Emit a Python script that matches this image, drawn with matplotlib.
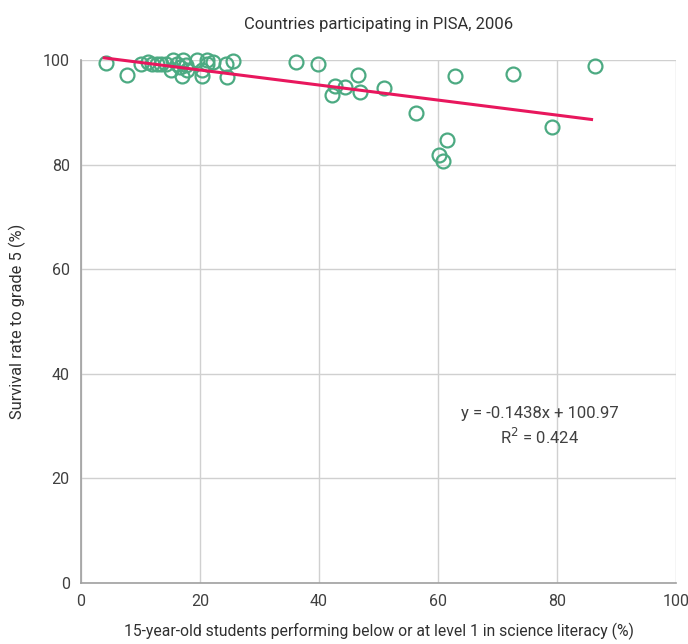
import matplotlib
matplotlib.use("Agg")
import matplotlib.pyplot as plt
import numpy as np

plt.rcParams['font.family'] = ['Roboto', 'DejaVu Sans']

# % of 15-year-olds at/below level 1 in science literacy
below_level1 = [4.2, 7.7, 10.1, 11.3, 11.9, 12.7, 13.4, 14.3, 15.5, 15.2,
                16.1, 16.6, 17.2, 17.0, 17.6, 17.9, 19.5, 20.4, 20.4, 21.1,
                21.1, 22.2, 24.4, 24.5, 25.5, 36.2, 39.8, 46.6, 42.7, 44.4,
                42.2, 46.9, 51.0, 56.3, 61.5, 60.1, 60.9, 62.9, 72.6, 86.4,
                79.1]
# survival rate to grade 5 (%)
survival = [99.5, 97.1, 99.2, 99.7, 99.2, 99.2, 99.2, 99.2, 100.0, 98.1,
            99.2, 98.7, 100.0, 96.9, 99.0, 98.1, 100.0, 98.1, 96.9, 100.0,
            99.2, 99.6, 99.2, 96.8, 99.9, 99.6, 99.2, 97.1, 95.0, 94.8,
            93.3, 93.9, 94.6, 89.9, 84.7, 81.9, 80.7, 96.9, 97.4, 98.8,
            87.2]

slope = -0.1438
intercept = 100.97
fit_x = np.array([3.9, 85.8])

fig = plt.figure(figsize=(6.88, 6.44), dpi=100)
ax = fig.add_axes([0.1177, 0.0947, 0.8649, 0.8121])

ax.plot(below_level1, survival, 'o', markersize=10, markerfacecolor='none',
        markeredgecolor='#4caa82', markeredgewidth=1.6, zorder=3, clip_on=False)
ax.plot(fit_x, intercept + slope * fit_x, color='#e8175d', linewidth=2.2,
        zorder=4, clip_on=False)

ax.set_xlim(0, 100)
ax.set_ylim(0, 100)
ax.set_xticks(range(0, 101, 20))
ax.set_yticks(range(0, 101, 20))
ax.grid(True, color='#d0d0d0', linewidth=1)
ax.set_axisbelow(True)
for s in ['top', 'right']:
    ax.spines[s].set_visible(False)
for s in ['left', 'bottom']:
    ax.spines[s].set_color('#a0a0a0')
    ax.spines[s].set_linewidth(1.2)
ax.tick_params(length=0, labelsize=11.5, labelcolor='#404040', pad=8)

ax.set_title('Countries participating in PISA, 2006', fontsize=12, color='#303030', pad=22)
ax.set_xlabel('15-year-old students performing below or at level 1 in science literacy (%)',
              fontsize=11.3, color='#303030', labelpad=10)
ax.set_ylabel('Survival rate to grade 5 (%)', fontsize=11.8, color='#303030', labelpad=12)

ax.text(77.1, 32.5, 'y = -0.1438x + 100.97', ha='center', va='center', fontsize=12, color='#404040')
ax.text(77.1, 27.9, 'R$^2$ = 0.424', ha='center', va='center', fontsize=12, color='#404040')

fig.savefig('out.png', dpi=100)
